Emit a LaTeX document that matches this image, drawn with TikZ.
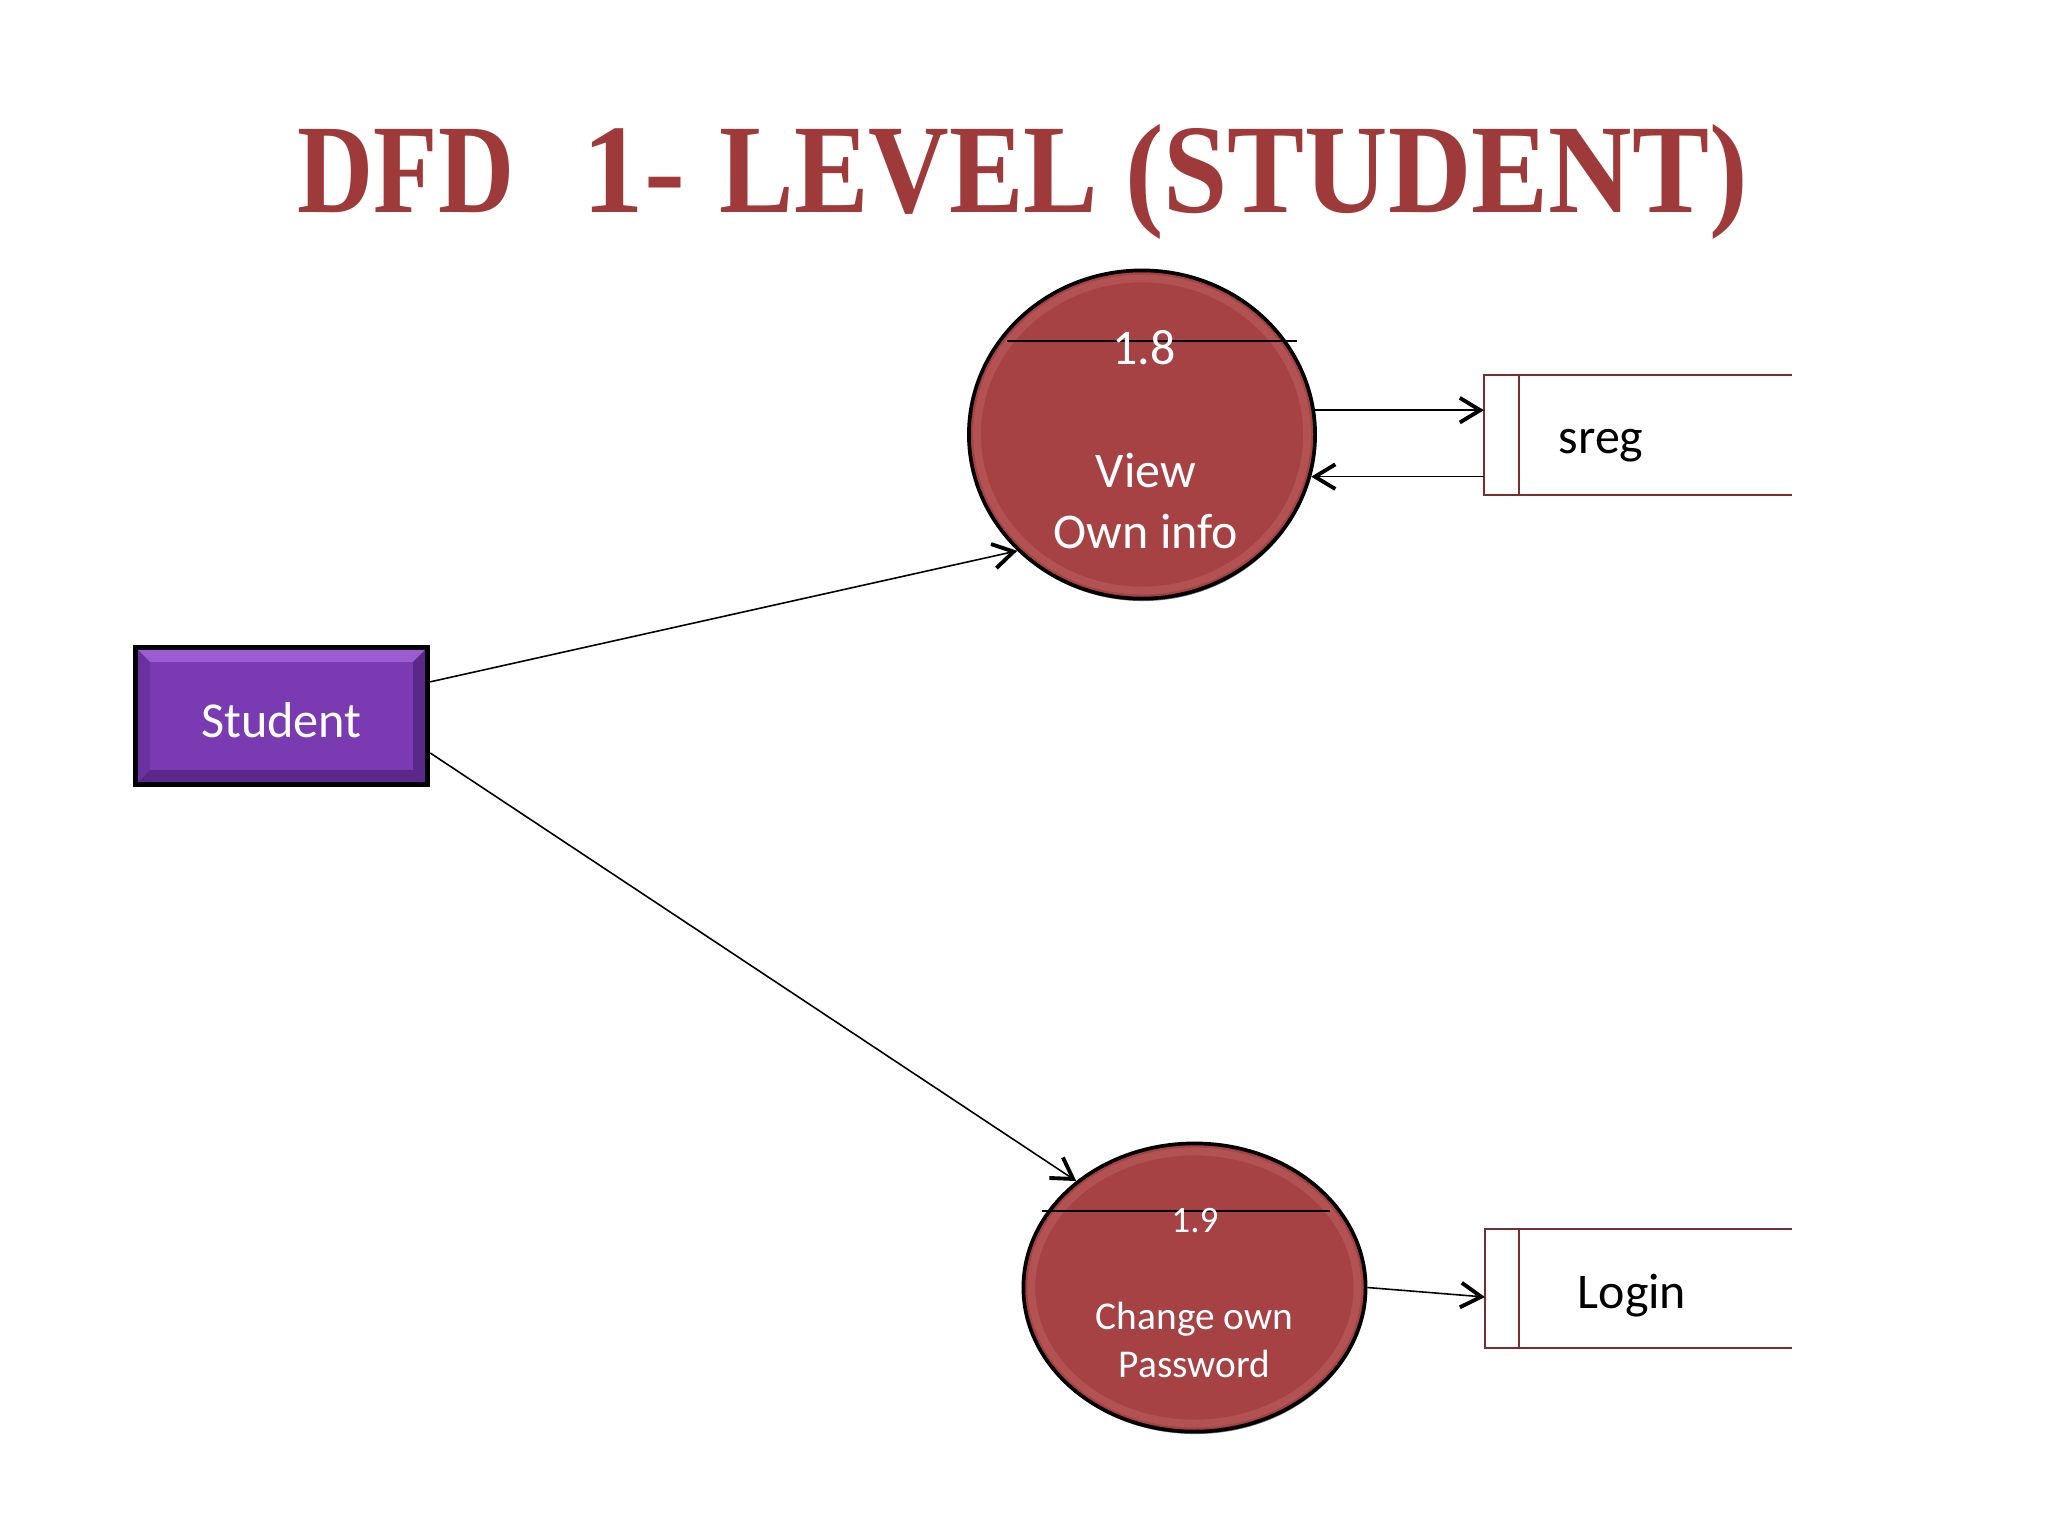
\documentclass[tikz,border=0pt]{standalone}
\usepackage{fontspec}
\setmainfont{Carlito}
\newfontfamily\titlefont{Liberation Serif}
\usetikzlibrary{arrows.meta,shapes.geometric,calc,shadows}
\definecolor{titlered}{HTML}{9E3A3A}
\definecolor{procred}{HTML}{A64244}
\definecolor{procrim}{HTML}{C06262}
\definecolor{stud}{HTML}{7A3AB2}
\definecolor{studlight}{HTML}{9A5CD0}
\definecolor{studdark}{HTML}{5A2888}
\definecolor{studside}{HTML}{6A32A0}
\definecolor{storeline}{HTML}{7A2E2E}
\tikzset{
  titletxt/.style={inner sep=0pt, text=titlered, font=\titlefont\bfseries\fontsize{36.1}{40}\selectfont},
  proc/.style={ellipse, fill=procred, draw=black, line width=1.05pt, inner sep=0pt,
    drop shadow={shadow xshift=0.2pt, shadow yshift=-0.7pt, opacity=0.55, fill=black}},
  rim/.style={draw=procrim, line width=2.2pt, opacity=0.5},
  sepline/.style={draw=black, line width=0.5pt},
  ptxt/.style={inner sep=0pt, text=white, font=\fontsize{14.2}{17.1}\selectfont},
  ptxtsmall/.style={inner sep=0pt, text=white, font=\fontsize{11.2}{13.7}\selectfont},
  numsmall/.style={inner sep=0pt, text=white, font=\fontsize{10.6}{13}\selectfont},
  ext/.style={rectangle, fill=stud, draw=black, line width=1.5pt, minimum width=2.92cm,
    minimum height=1.37cm, text=white, font=\fontsize{14.3}{17}\selectfont},
  storebox/.style={rectangle, inner sep=0pt, outer sep=0pt, minimum width=3.08cm, minimum height=1.20cm},
  storeedge/.style={draw=storeline, line width=0.5pt},
  stxt/.style={inner sep=0pt, text=black, font=\fontsize{14.2}{17}\selectfont},
  flow/.style={draw=black, line width=0.45pt, -{Straight Barb[length=5.8pt,width=7pt,line width=1.1pt]}}
}
\begin{document}
\begin{tikzpicture}[x=0.01cm,y=-0.01cm]
\useasboundingbox[fill=white] (0,0) rectangle (2048,1536);

% title
\node[titletxt, anchor=base west] (title) at (297,212)
  {\scalebox{0.83}[1]{DFD}\hspace{0.54em}\scalebox{0.97}[1]{1-}\hspace{0.27em}\scalebox{0.88}[1]{LEVEL}\hspace{0.21em}\scalebox{0.91}[1]{(STUDENT)}};

% external entity
\node[ext] (stud) at (281.5,716) {\raisebox{-0.04cm}[\height][\depth]{Student}};
\fill[studlight] ($(stud.north west)+(5,5)$) -- ($(stud.north east)+(-5,5)$)
  -- ($(stud.north east)+(-17,17)$) -- ($(stud.north west)+(17,17)$) -- cycle;
\fill[studdark] ($(stud.south west)+(5,-5)$) -- ($(stud.south east)+(-5,-5)$)
  -- ($(stud.south east)+(-17,-17)$) -- ($(stud.south west)+(17,-17)$) -- cycle;
\fill[studside] ($(stud.north west)+(5,5)$) -- ($(stud.north west)+(17,17)$)
  -- ($(stud.south west)+(17,-17)$) -- ($(stud.south west)+(5,-5)$) -- cycle;
\fill[studdark] ($(stud.north east)+(-5,5)$) -- ($(stud.north east)+(-17,17)$)
  -- ($(stud.south east)+(-17,-17)$) -- ($(stud.south east)+(-5,-5)$) -- cycle;

% process 1.8
\node[proc, minimum width=3.46cm, minimum height=3.28cm] (c1) at (1142,434.5) {};
\draw[rim] (c1.center) ellipse [x radius=165, y radius=156];
\draw[sepline] ($(c1.center)+(-135,-93.5)$) -- ($(c1.center)+(155,-93.5)$);
\node[ptxt] (n18) at (1144,347.5) {1.8};
\node[ptxt, align=center] (t18) at (1146,501) {View\\Own info};

% process 1.9
\node[proc, minimum width=3.42cm, minimum height=2.88cm] (c2) at (1194.5,1287.5) {};
\draw[rim] (c2.center) ellipse [x radius=163, y radius=136];
\draw[sepline] ($(c2.center)+(-152.5,-76.5)$) -- ($(c2.center)+(135.5,-76.5)$);
\node[numsmall] (n19) at (1195,1220.5) {1.9};
\node[ptxtsmall, align=center] (t19) at (1194.5,1340) {Change own\\Password};

% data stores
\node[storebox] (sreg) at (1638,435) {};
\draw[storeedge] (sreg.north east) -- (sreg.north west) -- (sreg.south west) -- (sreg.south east);
\draw[storeedge] ($(sreg.north west)+(35,0)$) -- ($(sreg.south west)+(35,0)$);
\node[stxt, anchor=base west] (sregt) at (1558,453) {sreg};

\node[storebox, minimum width=3.07cm, minimum height=1.19cm] (login) at (1638.5,1288.5) {};
\draw[storeedge] (login.north east) -- (login.north west) -- (login.south west) -- (login.south east);
\draw[storeedge] ($(login.north west)+(34,0)$) -- ($(login.south west)+(34,0)$);
\node[stxt, anchor=base west] (logint) at (1577,1308) {Login};

% flows
\draw[flow] ($(stud.north east)!0.26!(stud.south east)$) -- (c1.223);
\draw[flow] ($(stud.north east)!0.76!(stud.south east)$) -- (c2.138);
\draw[flow] (c1.8) -- (c1.8 -| sreg.west);
\draw[flow] (c1.346 -| sreg.west) -- (c1.346);
\draw[flow] (c2.east) -- ($(login.west)+(0,8.5)$);
\end{tikzpicture}
\end{document}
